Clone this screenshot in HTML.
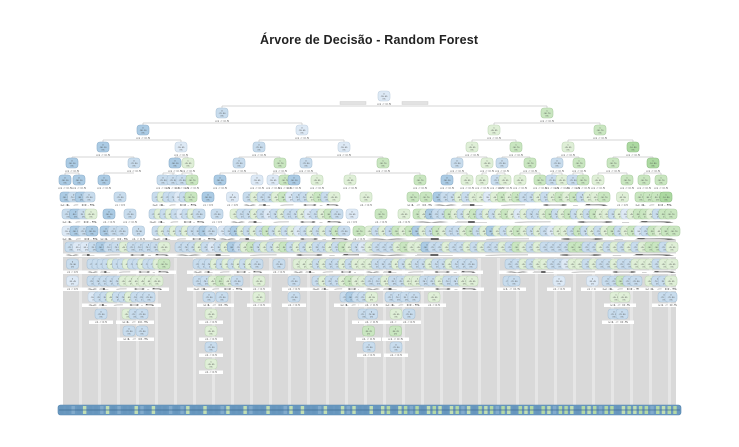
<!DOCTYPE html>
<html><head><meta charset="utf-8"><style>
html,body{margin:0;padding:0;background:#fff}
svg{display:block}
text{font-family:"Liberation Sans",sans-serif}
</style></head><body>
<svg id="chart" width="739" height="447" viewBox="0 0 739 447" xmlns="http://www.w3.org/2000/svg">
<rect x="0" y="0" width="739" height="447" fill="#fff"/>
<text x="369" y="44" text-anchor="middle" font-size="12.5" font-weight="bold" fill="#222" textLength="218" lengthAdjust="spacing">Árvore de Decisão - Random Forest</text>
<g id="gray"></g>
<g id="edges"></g>
<g id="labels"></g>
<g id="nodes"></g>
<g id="leaves"></g>
</svg>
<script>
// class-probability code per node: B dark blue ... H dark green
const probCodes = {B:0.1,b:0.3,l:0.45,g:0.55,G:0.7,H:0.9};
// Level y rows
const levelY = [96,113,130,147,163,180,197,214,231,247,264,281,297,314,331,347,364];
// Top levels: node x positions and class codes
const topX = [
  [384],
  [222,547],
  [143,302,494,600],
  [103,181,259,344,472,516,568,633],
  [72,134,175,188,239,280,306,383,457,487,502,530,557,579,613,653],
  [65,79,104,163,173,182,192,220,257,273,285,294,317,350,420,447,467,482,497,505,520,540,552,562,573,583,598,627,644,661]
];
const topCls = [
  "l","bG","BlgG","BlblgGgH","BbBgbGbGbgbGbGGH","BBBbbbGBllGBggGBggbggGbgbGgGGG"
];
// Deep levels: segments [x0,x1,pattern]
const deepRows = [
  [[60,95,"BbBb"],[115,125,"b"],[152,197,"bgbblbG"],[203,213,"B"],[227,238,"l"],[243,340,"bgbbgGlbbgGbg"],[360,372,"g"],[407,432,"GG"],[433,610,"BbbgbgglgGgGbbgbgGgGbggG"],[617,628,"g"],[635,672,"GGGH"]],
  [[62,97,"bBbg"],[103,115,"B"],[123,137,"b"],[149,205,"bgbgblbgb"],[212,222,"b"],[230,343,"gbbgblbgbbglbgGb"],[347,357,"l"],[375,387,"G"],[398,410,"g"],[413,677,"GgBbbGgbgGbgbgGglgbbgGbgGbgbGggbglgGGgbGG"]],
  [[62,98,"lBbB"],[100,128,"Bbb"],[132,145,"b"],[152,217,"bgbgbgbbBb"],[218,350,"lbBgbgbGbgbglbgbgbGb"],[353,365,"G"],[365,680,"gbgbGgGBgbGgbbgGbgBgbgGgbgblggbGbgbgGbgGlbGgGG"]],
  [[65,170,"bllbBbbgbbbbg"],[175,370,"bbbgblbgBbgGbgbgGbgbgbbgbGgbl"],[365,678,"gbbbgGggBbbgbbgbgbbgbGgbgbbbbGGbbgbgbgbgGGbg"]],
  [[67,78,"b"],[87,170,"bbbbgbbgbbgbbgG"],[193,263,"bbbgbgbgbgb"],[273,285,"b"],[293,370,"gggbgbbgbgg"],[365,477,"gbbbgbgbbgbbgbbb"],[505,678,"bbgbggbblggbgbbgbbgggbgg"]],
  [[67,78,"l"],[87,163,"bbbbbgggggg"],[193,243,"bbgGgb"],[253,265,"g"],[288,300,"b"],[312,370,"bgbbgGgg"],[365,478,"bbgbbggbbgbbgg"],[503,520,"bb"],[553,565,"l"],[587,598,"l"],[602,642,"bbGbb"],[645,677,"gbbg"]],
  [[88,155,"lbbgbbgbbb"],[203,228,"bb"],[253,265,"g"],[288,300,"b"],[340,370,"bBbb"],[365,378,"g"],[385,420,"bbbb"],[428,440,"g"],[610,630,"gg"],[658,677,"bb"]],
  [[95,107,"b"],[122,148,"gbb"],[205,217,"g"],[358,370,"b"],[365,378,"b"],[390,402,"g"],[403,415,"b"],[608,628,"bb"]],
  [[123,148,"bb"],[205,217,"g"],[362,375,"G"],[388,403,"G"]],
  [[205,217,"b"],[363,375,"b"],[390,402,"b"]],
  [[205,217,"g"]]
];
// Leaf strip pattern (bottom terminal nodes)
const leafCodes = "BBbBgBBbgBbBBgbBgBBbBbgBBgBBbgBBgbBBgBBbgBgBBbgBBgbgBBgBgGBgGbGBgGgBgGbgBGgGbGgBGgGBGgbGGgBGgGbGGBgGgGGbGgGG";

const NS="http://www.w3.org/2000/svg";
function mk(tag,attrs,parent){const e=document.createElementNS(NS,tag);for(const k in attrs)e.setAttribute(k,attrs[k]);parent.appendChild(e);return e;}
function hex(c){return [parseInt(c.slice(1,3),16),parseInt(c.slice(3,5),16),parseInt(c.slice(5,7),16)];}
function mix(a,b,t){const A=hex(a),B=hex(b);return "rgb("+A.map((v,i)=>Math.round(v+(B[i]-v)*t)).join(",")+")";}
function fillFor(p){ if(p<0.5){return mix("#e4edf7","#9dc2df",(0.5-p)*2);} return mix("#e6f2df","#9dd392",(p-0.5)*2);}
function strokeFor(p){ return p<0.5? mix("#c9d6e3","#7fa6c6",(0.5-p)*2) : mix("#c9dcc0","#80b878",(p-0.5)*2);}

const gGray=document.getElementById('gray'),gEdges=document.getElementById('edges'),gLabels=document.getElementById('labels'),gNodes=document.getElementById('nodes'),gLeaves=document.getElementById('leaves');

const area=mk('rect',{x:63,y:240,width:613,height:166,fill:"#d9d9d9"},gGray);


for(let x=79;x<676;x+=19){
  const s=mk('rect',{x:x,y:258,width:3,height:148,fill:"#e6e6e6"},gGray);
  
  
}

function drawNode(x,y,code,level){
  const p=probCodes[code]!==undefined?probCodes[code]:0.45;
  const g=mk('g',{},gNodes);
  
  
  mk('rect',{x:x-6,y:y-5,width:12,height:10,rx:3,fill:fillFor(p),stroke:strokeFor(p),'stroke-width':0.6},g);
  const t1=mk('text',{x:x,y:y-1.5,'font-size':2.2,'text-anchor':'middle',fill:"#444"},g);t1.textContent=p<0.5?"0":"1";
  const t2=mk('text',{x:x,y:y+1,'font-size':2.2,'text-anchor':'middle',fill:"#444"},g);t2.textContent=(1-p).toFixed(2).slice(1)+" "+p.toFixed(2).slice(1);
  const t3=mk('text',{x:x,y:y+3.5,'font-size':2.2,'text-anchor':'middle',fill:"#444"},g);t3.textContent="1%";
}
function drawLabel(x,y,w){
  const t=mk('text',{x:x,y:y+9,'font-size':2.6,'text-anchor':'middle',fill:"#666",textLength:w,lengthAdjust:"spacingAndGlyphs"},gLabels);
  t.textContent="x1 < 0.5";
  
  
}

for(let L=1;L<topX.length;L++){
  const prev=topX[L-1];
  const groups={};
  topX[L].forEach(x=>{let bi=0;prev.forEach((px,i)=>{if(Math.abs(px-x)<Math.abs(prev[bi]-x))bi=i;});(groups[bi]=groups[bi]||[]).push(x);});
  for(const k in groups){
    const px=prev[k],ch=groups[k],yy=levelY[L-1]+10;
    const xs=ch.concat([px]);
    const h=mk('line',{x1:Math.min(...xs),x2:Math.max(...xs),y1:yy,y2:yy,stroke:"#c8c8c8",'stroke-width':0.8},gEdges);
    
    
    ch.forEach(cx=>{
      const v=mk('line',{x1:cx,x2:cx,y1:yy,y2:levelY[L]-5,stroke:"#c8c8c8",'stroke-width':0.8},gEdges);
      
      
    });
  }
}
[[353,103],[415,103]].forEach(([x,y])=>{
  const r=mk('rect',{x:x-13,y:y-1.5,width:26,height:3,fill:"#e2e2e2",stroke:"#c8c8c8",'stroke-width':0.4},gEdges);
  
  
});

topX.forEach((row,L)=>{
  row.forEach((x,i)=>{drawNode(x,levelY[L],topCls[L][i],L);drawLabel(x,levelY[L],14);});
});

deepRows.forEach((segs,r)=>{
  const L=r+6,y=levelY[L];
  segs.forEach(([x0,x1,pat])=>{
    if(L>=9){
      const wb=mk('rect',{x:x0-6,y:y+6.5,width:x1-x0+12,height:3.5,fill:"#fff"},gLabels);
      
      
    }
    const n=pat.length;
    for(let i=0;i<n;i++){
      const cx=n===1?(x0+x1)/2:x0+6+(x1-x0-12)*i/(n-1);
      drawNode(cx,y,pat[i],L);
    }
    drawLabel((x0+x1)/2,y,Math.max(10,x1-x0));
  });
});

const lx0=58,lx1=681,ly=405;
const base=mk('rect',{x:lx0,y:ly,width:lx1-lx0,height:10,rx:2.5,fill:"#6a99c0",stroke:"#5586b0",'stroke-width':0.6},gLeaves);


const nL=leafCodes.length,lw=(lx1-lx0-4)/nL;
for(let i=0;i<nL;i++){
  const p=probCodes[leafCodes[i]];
  const col=p<0.5?mix("#9dbfdb","#5a8cb6",(0.5-p)*2):mix("#c6e0b8","#96cb88",(p-0.5)*2);
  const b=mk('rect',{x:lx0+2+i*lw,y:ly+1,width:Math.max(1,lw*0.6),height:8,fill:col},gLeaves);
  
  
}
const ml=mk('line',{x1:lx0+1,x2:lx1-1,y1:ly+5,y2:ly+5,stroke:"#3f6e95",'stroke-width':0.8},gLeaves);


</script>
</body></html>
